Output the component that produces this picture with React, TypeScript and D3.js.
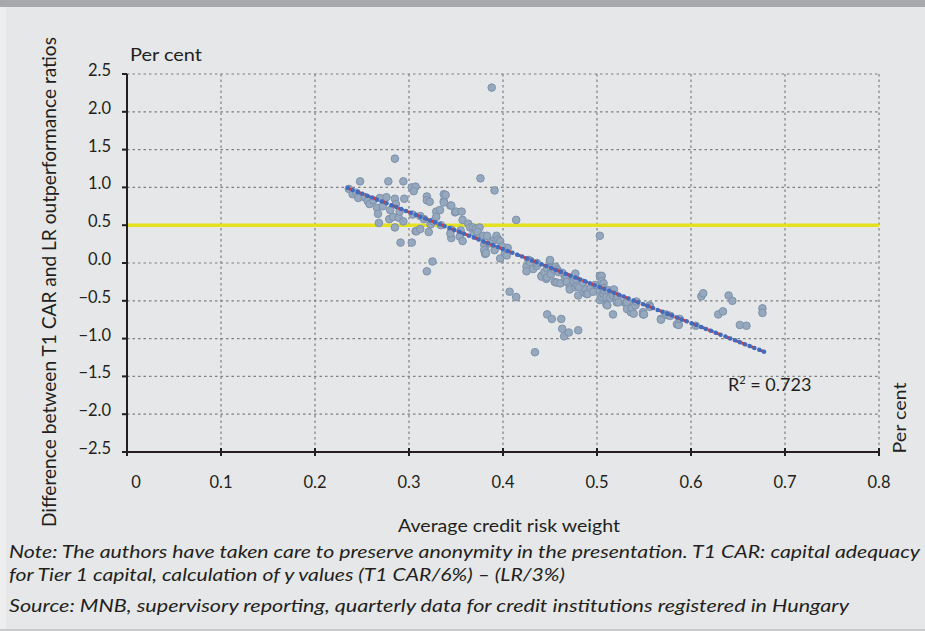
import React from "react";
import * as d3 from "d3";

// axis ticks
const xTicks = [0, 0.1, 0.2, 0.3, 0.4, 0.5, 0.6, 0.7, 0.8];
const yTicks = [2.5, 2.0, 1.5, 1.0, 0.5, 0.0, -0.5, -1.0, -1.5, -2.0, -2.5];

// institutions: [average credit risk weight, T1 CAR minus LR outperformance]
const points: [number, number][] = [
  [0.236, 0.98], [0.240, 0.91], [0.244, 0.93], [0.246, 0.86], [0.248, 1.08], [0.253, 0.87],
  [0.256, 0.82], [0.258, 0.78], [0.262, 0.83], [0.266, 0.73], [0.267, 0.65], [0.268, 0.53],
  [0.269, 0.86], [0.272, 0.75], [0.276, 0.87], [0.278, 1.08], [0.279, 0.58], [0.280, 0.70],
  [0.283, 0.61], [0.285, 1.38], [0.285, 0.85], [0.285, 0.47], [0.286, 0.78], [0.289, 0.60],
  [0.290, 0.68], [0.291, 0.27], [0.294, 0.55], [0.294, 1.08], [0.295, 0.85], [0.303, 0.27],
  [0.303, 1.00], [0.307, 1.01], [0.305, 0.95], [0.304, 0.64], [0.307, 0.42], [0.308, 0.42],
  [0.312, 0.45], [0.312, 0.62], [0.316, 0.58], [0.319, 0.88], [0.319, 0.83], [0.322, 0.81],
  [0.321, 0.41], [0.323, 0.51], [0.325, 0.02], [0.319, -0.11], [0.326, 0.55], [0.329, 0.68],
  [0.329, 0.61], [0.333, 0.70], [0.334, 0.50], [0.337, 0.91], [0.337, 0.82], [0.339, 0.90],
  [0.337, 0.80], [0.344, 0.76], [0.345, 0.76], [0.349, 0.67], [0.350, 0.68], [0.356, 0.68],
  [0.357, 0.57], [0.345, 0.44], [0.345, 0.33], [0.344, 0.39], [0.355, 0.43], [0.354, 0.35],
  [0.357, 0.29], [0.363, 0.52], [0.365, 0.47], [0.368, 0.47], [0.369, 0.40], [0.371, 0.45],
  [0.375, 0.47], [0.374, 0.37], [0.373, 0.41], [0.376, 0.34], [0.379, 0.36], [0.383, 0.36],
  [0.380, 0.24], [0.381, 0.18], [0.380, 0.17], [0.381, 0.12], [0.382, 0.13], [0.376, 1.12],
  [0.391, 0.96], [0.388, 2.32], [0.390, 0.30], [0.393, 0.36], [0.395, 0.31], [0.397, 0.29],
  [0.391, 0.17], [0.397, 0.06], [0.402, 0.13], [0.403, 0.20], [0.405, 0.20], [0.404, 0.10],
  [0.386, 0.26], [0.399, 0.22], [0.414, 0.57], [0.407, -0.38], [0.414, -0.45], [0.425, -0.05],
  [0.425, -0.11], [0.427, 0.04], [0.429, 0.03], [0.429, 0.01], [0.432, -0.08], [0.436, -0.04],
  [0.436, 0.00], [0.441, -0.17], [0.441, -0.18], [0.444, -0.12], [0.446, -0.21], [0.447, -0.19],
  [0.447, -0.07], [0.450, 0.03], [0.450, 0.04], [0.451, -0.07], [0.451, -0.15], [0.455, -0.09],
  [0.456, -0.05], [0.458, -0.09], [0.455, -0.25], [0.457, -0.26], [0.461, -0.27], [0.459, -0.12],
  [0.463, -0.13], [0.466, -0.20], [0.468, -0.18], [0.468, -0.25], [0.471, -0.32], [0.471, -0.35],
  [0.475, -0.24], [0.477, -0.14], [0.478, -0.22], [0.477, -0.32], [0.479, -0.30], [0.480, -0.43],
  [0.481, -0.32], [0.485, -0.26], [0.486, -0.39], [0.488, -0.35], [0.489, -0.41], [0.490, -0.41],
  [0.493, -0.33], [0.496, -0.38], [0.498, -0.29], [0.503, 0.36], [0.503, -0.17], [0.505, -0.17],
  [0.503, -0.36], [0.503, -0.49], [0.505, -0.24], [0.505, -0.45], [0.507, -0.27], [0.507, -0.33],
  [0.507, -0.39], [0.507, -0.41], [0.508, -0.36], [0.510, -0.45], [0.510, -0.55], [0.511, -0.56],
  [0.512, -0.36], [0.514, -0.46], [0.517, -0.40], [0.517, -0.43], [0.517, -0.68], [0.518, -0.35],
  [0.521, -0.44], [0.521, -0.47], [0.521, -0.52], [0.522, -0.45], [0.523, -0.52], [0.434, -1.18],
  [0.447, -0.68], [0.452, -0.74], [0.462, -0.74], [0.463, -0.87], [0.465, -0.97], [0.470, -0.92],
  [0.480, -0.89], [0.530, -0.53], [0.531, -0.53], [0.532, -0.52], [0.532, -0.61], [0.536, -0.65],
  [0.537, -0.59], [0.537, -0.60], [0.539, -0.67], [0.541, -0.52], [0.541, -0.56], [0.542, -0.51],
  [0.549, -0.65], [0.549, -0.68], [0.550, -0.68], [0.556, -0.56], [0.556, -0.58], [0.568, -0.74],
  [0.568, -0.75], [0.573, -0.68], [0.575, -0.69], [0.578, -0.70], [0.585, -0.81], [0.587, -0.82],
  [0.588, -0.74], [0.605, -0.83], [0.611, -0.44], [0.613, -0.40], [0.629, -0.68], [0.634, -0.64],
  [0.640, -0.43], [0.644, -0.50], [0.652, -0.82], [0.659, -0.83], [0.676, -0.60], [0.676, -0.66],
];

// linear trendline
const trendRange = [0.235, 0.679];
const trendSlope = -4.89;
const trendIntercept = 2.14;
const rSquared = "0.723";
const threshold = 0.5;

const yTitle = "Difference between T1 CAR and LR outperformance ratios";
const xTitle = "Average credit risk weight";
const unit = "Per cent";
const noteLines = [
  "Note: The authors have taken care to preserve anonymity in the presentation. T1 CAR: capital adequacy",
  "for Tier 1 capital, calculation of y values (T1 CAR/6%) \u2013 (LR/3%)",
];
const source = "Source: MNB, supervisory reporting, quarterly data for credit institutions registered in Hungary";

const font = "Lato, 'Open Sans', sans-serif";
const ink = "#231f20";

export default function App() {
  const width = 925;
  const height = 631;

  const x = d3.scaleLinear().domain([0, 0.8]).range([127, 879]);
  const y = d3.scaleLinear().domain([-2.5, 2.5]).range([452, 74]);

  const fmtY = (v: number) => (v < 0 ? "\u2212" : "") + d3.format(".1f")(Math.abs(v));
  const fmtX = (v: number) => (v === 0 ? "0" : d3.format(".1f")(v));

  const line = d3
    .line<number[]>()
    .x((d) => x(d[0]))
    .y((d) => y(d[1]));
  const trend = trendRange.map((v) => [v, trendIntercept + trendSlope * v]);

  const [x0, x1] = x.range();
  const [yb, yt] = y.range();

  return (
    <svg
      width={width}
      height={height}
      style={{ position: "absolute", left: 0, top: 0, fontFamily: font }}
    >
      <rect width={width} height={height} fill="#e6e7e8" />
      <rect y={7} width={6} height={height - 7} fill="#eeeeef" />
      <rect width={width} height={7} fill="#a7a9ac" />
      <rect y={height - 2} width={width} height={2} fill="#c9cacc" />

      {/* grid */}
      <g stroke="#7f7f7f" strokeWidth={1.2} strokeDasharray="2.5,3">
        {yTicks
          .filter((v) => v !== -2.5 && v !== threshold)
          .map((v) => (
            <line key={"gy" + v} x1={x0} x2={x1} y1={y(v)} y2={y(v)} />
          ))}
        {xTicks
          .filter((v) => v !== 0)
          .map((v) => (
            <line key={"gx" + v} x1={x(v)} x2={x(v)} y1={yt} y2={yb} />
          ))}
      </g>

      {/* threshold */}
      <line x1={x0} x2={x1} y1={y(threshold)} y2={y(threshold)} stroke="#e4e121" strokeWidth={3.5} />

      {/* scatter */}
      <g fill="#96a8be" stroke="#7d92ab" strokeWidth={1}>
        {points.map((d, i) => (
          <circle key={i} cx={x(d[0])} cy={y(d[1])} r={3.8} />
        ))}
      </g>

      {/* trendline */}
      <path d={line(trend) || ""} fill="none" stroke="#e8332b" strokeWidth={3} strokeDasharray="6,3" />
      <path
        d={line(trend) || ""}
        fill="none"
        stroke="#3d6cc0"
        strokeWidth={4.5}
        strokeLinecap="round"
        strokeDasharray="0,5.2"
      />

      {/* axes */}
      <g stroke={ink} strokeWidth={2}>
        <line x1={x0} x2={x0} y1={yt} y2={yb + 1} />
        <line x1={x0 - 1} x2={x1 + 1} y1={yb} y2={yb} />
        {yTicks.map((v) => (
          <line key={"ty" + v} x1={x0 - 5} x2={x0} y1={y(v)} y2={y(v)} />
        ))}
        {xTicks.map((v) => (
          <line key={"tx" + v} x1={x(v)} x2={x(v)} y1={yb - 4} y2={yb + 4} />
        ))}
      </g>

      <g fontSize={16.5} fill={ink}>
        {yTicks.map((v) => (
          <text key={"ly" + v} x={111} y={y(v) + 2} textAnchor="end">
            {fmtY(v)}
          </text>
        ))}
        {xTicks.map((v) => (
          <text key={"lx" + v} x={x(v) + (v === 0 ? 9 : 0)} y={488} textAnchor="middle">
            {fmtX(v)}
          </text>
        ))}
        <text x={130} y={61} textLength={72} lengthAdjust="spacingAndGlyphs">
          {unit}
        </text>
        <text
          transform="translate(906,418) rotate(-90)"
          textAnchor="middle"
          textLength={71}
          lengthAdjust="spacingAndGlyphs"
        >
          {unit}
        </text>
        <text
          transform="translate(56,282) rotate(-90)"
          textAnchor="middle"
          fontSize={19.5}
          textLength={490}
          lengthAdjust="spacingAndGlyphs"
        >
          {yTitle}
        </text>
        <text x={509} y={532} textAnchor="middle" textLength={222} lengthAdjust="spacingAndGlyphs">
          {xTitle}
        </text>
        <text x={728} y={391} fontSize={18}>
          R<tspan fontSize={11} dy={-7}>2</tspan>
          <tspan dy={7}> = {rSquared}</tspan>
        </text>
      </g>

      <g fontSize={17} fontStyle="italic" fill={ink}>
        <text x={9} y={558} textLength={911} lengthAdjust="spacingAndGlyphs">
          {noteLines[0]}
        </text>
        <text x={9} y={581} textLength={556} lengthAdjust="spacingAndGlyphs">
          {noteLines[1]}
        </text>
        <text x={9} y={612} textLength={840} lengthAdjust="spacingAndGlyphs">
          {source}
        </text>
      </g>
    </svg>
  );
}
